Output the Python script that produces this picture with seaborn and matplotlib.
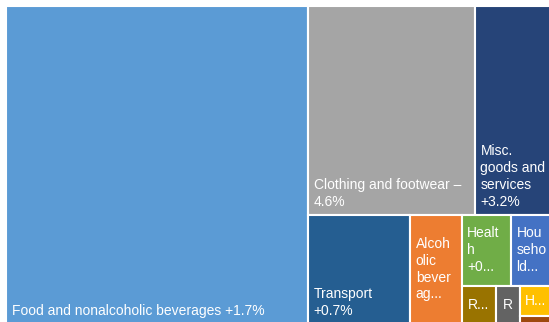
import matplotlib
matplotlib.use("Agg")
import matplotlib.pyplot as plt
from matplotlib.patches import Rectangle
import seaborn as sns

# ---- data ----
categories = ["Food", "Clothing", "Misc", "Transport", "Alcohol",
              "Health", "Household", "Recreation", "Restaurants", "Housing", "Other"]
weights = [96.0, 34.8, 15.85, 11.2, 5.6, 3.51, 2.84, 1.33, 0.9, 0.96, 0.25]
labels = ["Food and nonalcoholic beverages +1.7%",
          "Clothing and footwear \u2013\n4.6%",
          "Misc.\ngoods and\nservices\n+3.2%",
          "Transport\n+0.7%",
          "Alcoh\nolic\nbever\nag...",
          "Healt\nh\n+0...",
          "Hou\nseho\nld...",
          "R...",
          "R",
          "H...",
          ""]
colors = ["#5B9BD5", "#A5A5A5", "#264478", "#255E91", "#ED7D31",
          "#70AD47", "#4472C4", "#997300", "#636363", "#FFC000", "#9E480E"]
# label placement style: (horizontal, vertical)
placement = [("left", "bottom"), ("left", "bottom"), ("left", "bottom"),
             ("left", "bottom"), ("left", "center"), ("left", "center"),
             ("left", "center"), ("center", "center"), ("center", "center"),
             ("center", "center"), ("center", "center")]

# nesting of the treemap (h = side by side, v = stacked)
tree = ("h", [0, ("v", [("h", [1, 2]),
                        ("h", [3, 4, ("v", [("h", [5, 6]),
                                            ("h", [7, 8, ("v", [9, 10])])])])])])

sns.set_theme(style="white")
plt.rcParams["font.family"] = ["Liberation Sans", "DejaVu Sans"]


def node_weight(node):
    if isinstance(node, int):
        return weights[node]
    return sum(node_weight(c) for c in node[1])


def layout(node, x, y, w, h, out):
    if isinstance(node, int):
        out[node] = (x, y, w, h)
        return
    orient, children = node
    total = node_weight(node)
    pos = 0.0
    for c in children:
        frac = node_weight(c) / total
        if orient == "h":
            layout(c, x + pos * w, y, frac * w, h, out)
        else:
            layout(c, x, y + pos * h, w, frac * h, out)
        pos += frac


rects = {}
layout(tree, 6, 6, 545, 318, rects)

fig = plt.figure(figsize=(5.49, 3.22), dpi=100)
ax = fig.add_axes([0, 0, 1, 1])
ax.set_xlim(0, 549)
ax.set_ylim(322, 0)
ax.axis("off")

for i in range(len(categories)):
    x, y, w, h = rects[i]
    ax.add_patch(Rectangle((x, y), w, h, facecolor=colors[i],
                           edgecolor="white", linewidth=1.5))
    ha, va = placement[i]
    if not labels[i]:
        continue
    tx = x + 5.5 if ha == "left" else x + w / 2
    if va == "bottom":
        ty = y + h - 6
        tva = "bottom"
    else:
        ty = y + h / 2
        tva = "center"
    ax.text(tx, ty, labels[i], ha=ha, va=tva, color="white",
            fontsize=10, linespacing=1.25, clip_on=True)

fig.savefig("out.png", dpi=100)
